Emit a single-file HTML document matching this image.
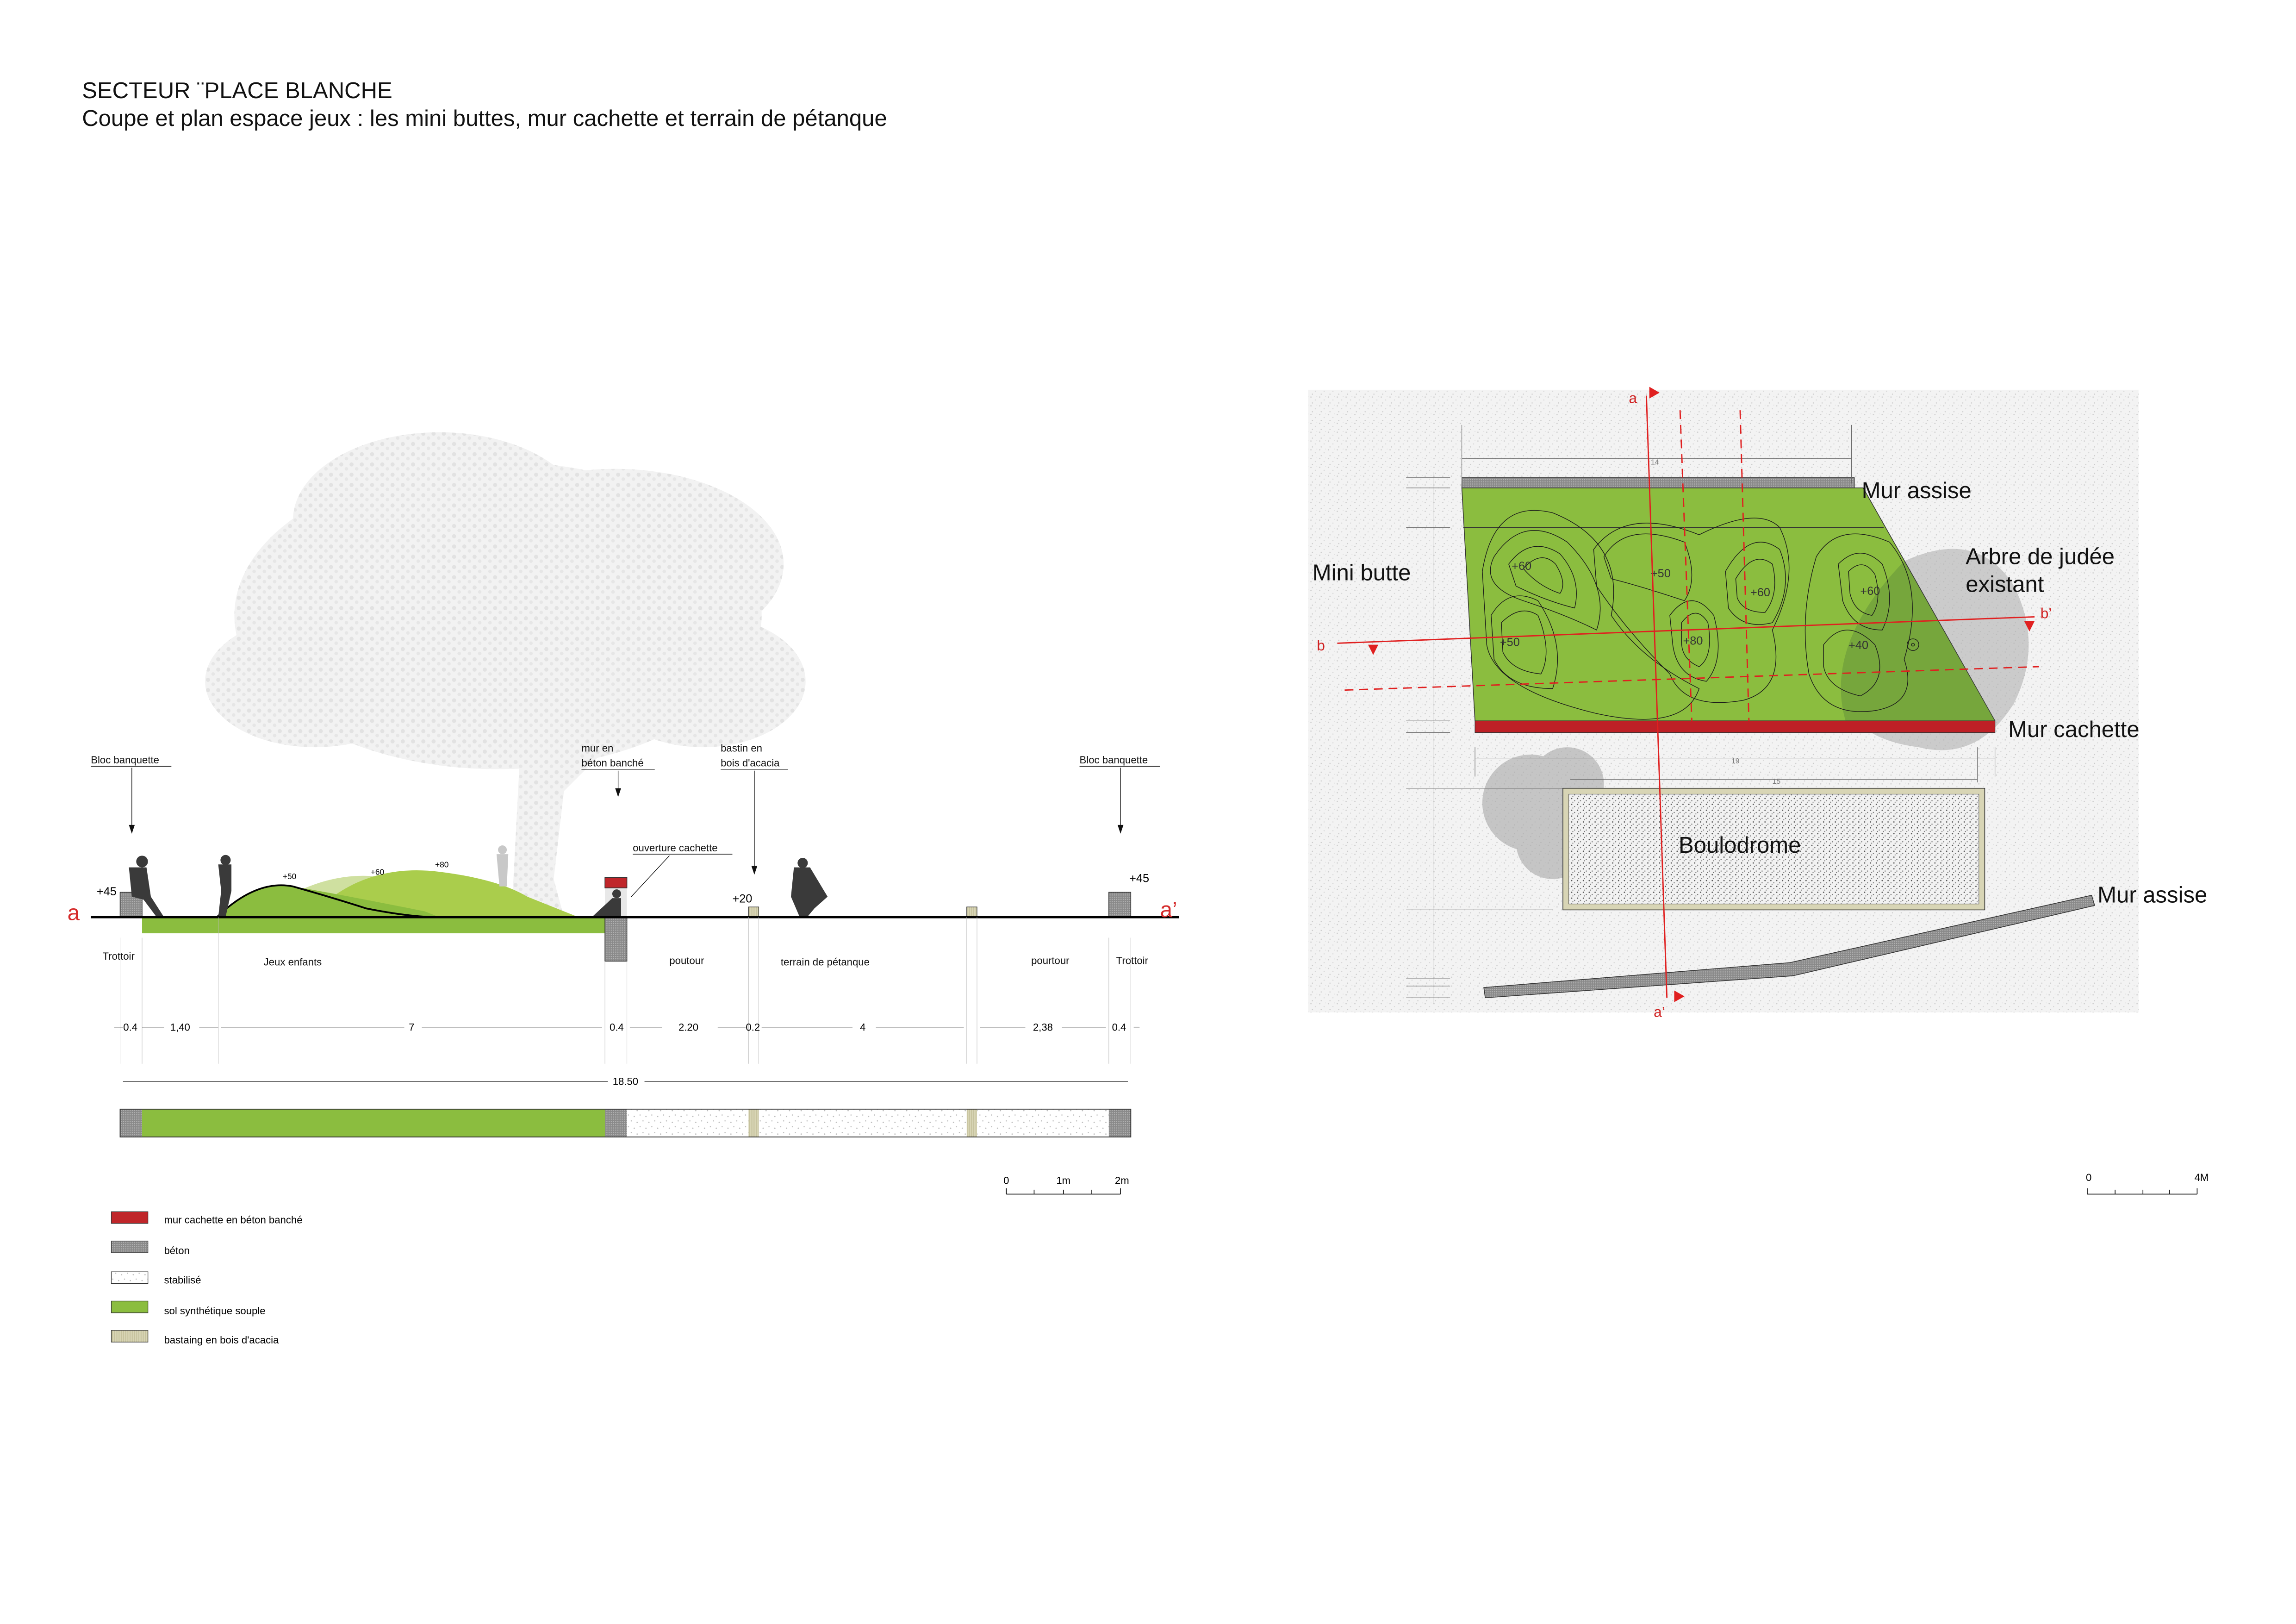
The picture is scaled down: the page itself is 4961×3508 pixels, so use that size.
<!DOCTYPE html>
<html><head><meta charset="utf-8"><style>
html,body{margin:0;padding:0;background:#fff}
svg{display:block}
text{font-family:"Liberation Sans",sans-serif}
.n{font-family:"Liberation Sans Narrow","Liberation Sans",sans-serif}
</style></head><body>
<svg width="4961" height="3508" viewBox="0 0 1567.5 1108.4" preserveAspectRatio="none" xmlns="http://www.w3.org/2000/svg">
<defs>
<pattern id="beton" width="1.5" height="1.5" patternUnits="userSpaceOnUse"><rect width="1.5" height="1.5" fill="#8a8a8a"/><rect width="0.7" height="0.7" fill="#b5b5b5"/></pattern>
<pattern id="stab" width="8" height="8" patternUnits="userSpaceOnUse"><rect width="8" height="8" fill="#fff"/><circle cx="1" cy="2" r="0.45" fill="#bbb"/><circle cx="5" cy="1" r="0.4" fill="#bbb"/><circle cx="3" cy="6" r="0.45" fill="#bbb"/><circle cx="7" cy="5" r="0.4" fill="#bbb"/></pattern>
<pattern id="bois" width="1.5" height="1.5" patternUnits="userSpaceOnUse"><rect width="1.5" height="1.5" fill="#d8d5b5"/><rect width="0.6" height="1.5" fill="#c5c19c"/></pattern>
<pattern id="bg" width="6" height="6" patternUnits="userSpaceOnUse"><rect width="6" height="6" fill="#f3f3f3"/><circle cx="1" cy="1" r="0.45" fill="#cfcfcf"/><circle cx="4" cy="3" r="0.4" fill="#d6d6d6"/><circle cx="2" cy="5" r="0.4" fill="#cacaca"/><circle cx="5" cy="0.5" r="0.3" fill="#ddd"/></pattern>
<pattern id="boul" width="4" height="4" patternUnits="userSpaceOnUse"><rect width="4" height="4" fill="#f2f2f2"/><circle cx="1" cy="1" r="0.45" fill="#555"/><circle cx="3" cy="2.5" r="0.4" fill="#777"/><circle cx="1.8" cy="3.5" r="0.35" fill="#666"/></pattern>
<pattern id="leaf" width="7" height="7" patternUnits="userSpaceOnUse"><rect width="7" height="7" fill="#f2f2f2"/><circle cx="2" cy="2" r="1.4" fill="#e2e2e2"/><circle cx="5.5" cy="5" r="1.2" fill="#e6e6e6"/></pattern>
</defs>

<text x="56" y="67" font-size="15.5" fill="#111">SECTEUR ¨PLACE BLANCHE</text>
<text x="56" y="86" font-size="15.5" fill="#111">Coupe et plan espace jeux : les mini buttes, mur cachette et terrain de pétanque</text>

<!-- Tree -->
<g fill="url(#leaf)">
<ellipse cx="340" cy="420" rx="180" ry="105"/>
<ellipse cx="300" cy="355" rx="100" ry="60"/>
<ellipse cx="420" cy="385" rx="115" ry="65"/>
<ellipse cx="215" cy="465" rx="75" ry="45"/>
<ellipse cx="480" cy="465" rx="70" ry="45"/>
<path d="M355 515 L350 610 L345 626 L385 626 L378 600 L385 540 L420 505 L400 500 L375 520 Z"/>
</g>

<path d="M175 626 Q215 595 255 598 Q285 600 310 620 L320 626 Z" fill="#cfe0a0"/>
<path d="M230 610 Q260 590 300 595 Q340 600 360 612 Q380 620 395 626 L230 626 Z" fill="#aacd4c"/>
<path d="M148 626 Q175 600 200 605 Q230 610 290 622 L300 626 Z" fill="#8bbd3f"/>
<path d="M148 626 Q175 600 200 605 Q225 612 250 620 Q280 626 300 626" fill="none" stroke="#000" stroke-width="1.2"/>
<text x="193" y="600" font-size="5.5" class="n">+50</text>
<text x="253" y="597" font-size="5.5" class="n">+60</text>
<text x="297" y="592" font-size="5.5" class="n">+80</text>

<rect x="97" y="626" width="316" height="11" fill="#8bbd3f"/>
<rect x="82" y="609" width="15" height="17" fill="url(#beton)" stroke="#333" stroke-width="0.5"/>
<rect x="757" y="609" width="15" height="17" fill="url(#beton)" stroke="#333" stroke-width="0.5"/>
<rect x="413" y="626" width="15" height="30" fill="url(#beton)" stroke="#333" stroke-width="0.5"/>
<rect x="413" y="606" width="15" height="20" fill="#e8e8e8"/>
<rect x="413" y="599" width="15" height="7" fill="#c0262a" stroke="#333" stroke-width="0.5"/>
<rect x="511" y="619" width="7" height="7" fill="url(#bois)" stroke="#333" stroke-width="0.4"/>
<rect x="660" y="619" width="7" height="7" fill="url(#bois)" stroke="#333" stroke-width="0.4"/>

<g fill="#3a3a3a">
<circle cx="97" cy="588" r="4"/><path d="M88 592 L100 592 L103 612 L112 626 L107 626 L98 614 L90 612 Z"/>
<circle cx="154" cy="587" r="3.5"/><path d="M149 590 L158 590 L158 608 L154 626 L149 626 L151 608 Z"/>
<circle cx="548" cy="589" r="3.5"/><path d="M542 592 L553 592 L565 612 L556 620 L551 626 L546 626 L540 612 Z"/>
<circle cx="421" cy="610" r="3"/><path d="M418 613 L424 613 L424 626 L404 626 Z"/>
</g>
<g fill="#c8c8c8"><circle cx="343" cy="580" r="3"/><path d="M339 583 L347 583 L346 605 L341 605 Z"/></g>

<line x1="62" y1="626" x2="805" y2="626" stroke="#000" stroke-width="1.5"/>
<text x="46" y="628" font-size="15" fill="#d52b2b">a</text>
<text x="792" y="626" font-size="15" fill="#d52b2b">a’</text>
<text x="66" y="611" font-size="8" class="n">+45</text>
<text x="771" y="602" font-size="8" class="n">+45</text>
<text x="500" y="616" font-size="8" class="n">+20</text>

<g font-size="7" class="n" fill="#111">
<text x="62" y="521">Bloc banquette</text><line x1="62" y1="523" x2="117" y2="523" stroke="#000" stroke-width="0.4"/>
<line x1="90" y1="524" x2="90" y2="566" stroke="#000" stroke-width="0.4"/><path d="M88 563 L90 569 L92 563Z"/>
<text x="737" y="521">Bloc banquette</text><line x1="737" y1="523" x2="792" y2="523" stroke="#000" stroke-width="0.4"/>
<line x1="765" y1="524" x2="765" y2="566" stroke="#000" stroke-width="0.4"/><path d="M763 563 L765 569 L767 563Z"/>
<text x="397" y="513">mur en</text><text x="397" y="523">béton banché</text><line x1="397" y1="525" x2="447" y2="525" stroke="#000" stroke-width="0.4"/>
<line x1="422" y1="526" x2="422" y2="541" stroke="#000" stroke-width="0.4"/><path d="M420 538 L422 544 L424 538Z"/>
<text x="492" y="513">bastin en</text><text x="492" y="523">bois d'acacia</text><line x1="492" y1="525" x2="538" y2="525" stroke="#000" stroke-width="0.4"/>
<line x1="515" y1="526" x2="515" y2="594" stroke="#000" stroke-width="0.4"/><path d="M513 591 L515 597 L517 591Z"/>
<text x="432" y="581">ouverture cachette</text><line x1="432" y1="583" x2="500" y2="583" stroke="#000" stroke-width="0.4"/>
<line x1="457" y1="584" x2="431" y2="612" stroke="#000" stroke-width="0.4"/>
<text x="70" y="655">Trottoir</text><text x="180" y="659">Jeux enfants</text><text x="457" y="658">poutour</text><text x="533" y="659">terrain de pétanque</text><text x="704" y="658">pourtour</text><text x="762" y="658">Trottoir</text>
</g>

<g stroke="#bbb" stroke-width="0.3">
<line x1="82" y1="640" x2="82" y2="726"/><line x1="97" y1="640" x2="97" y2="726"/><line x1="149" y1="626" x2="149" y2="726"/><line x1="413" y1="656" x2="413" y2="726"/><line x1="428" y1="656" x2="428" y2="726"/><line x1="511" y1="626" x2="511" y2="726"/><line x1="518" y1="626" x2="518" y2="726"/><line x1="660" y1="626" x2="660" y2="726"/><line x1="667" y1="626" x2="667" y2="726"/><line x1="757" y1="640" x2="757" y2="726"/><line x1="772" y1="640" x2="772" y2="726"/>
</g>
<g stroke="#000" stroke-width="0.4">
<line x1="78" y1="701" x2="84" y2="701"/><line x1="97" y1="701" x2="112" y2="701"/><line x1="136" y1="701" x2="149" y2="701"/><line x1="151" y1="701" x2="276" y2="701"/><line x1="288" y1="701" x2="411" y2="701"/><line x1="430" y1="701" x2="452" y2="701"/><line x1="490" y1="701" x2="509" y2="701"/><line x1="520" y1="701" x2="582" y2="701"/><line x1="598" y1="701" x2="658" y2="701"/><line x1="669" y1="701" x2="700" y2="701"/><line x1="725" y1="701" x2="755" y2="701"/><line x1="774" y1="701" x2="778" y2="701"/>
<line x1="84" y1="738" x2="415" y2="738"/><line x1="440" y1="738" x2="770" y2="738"/>
</g>
<g font-size="7" class="n" text-anchor="middle">
<text x="89" y="703.5">0.4</text><text x="123" y="703.5">1,40</text><text x="281" y="703.5">7</text><text x="421" y="703.5">0.4</text><text x="470" y="703.5">2.20</text><text x="514" y="703.5">0.2</text><text x="589" y="703.5">4</text><text x="712" y="703.5">2,38</text><text x="764" y="703.5">0.4</text><text x="427" y="740.5">18.50</text>
</g>

<rect x="82" y="757" width="15" height="19" fill="url(#beton)"/>
<rect x="97" y="757" width="316" height="19" fill="#8bbd3f"/>
<rect x="413" y="757" width="15" height="19" fill="url(#beton)"/>
<rect x="428" y="757" width="83" height="19" fill="url(#stab)"/>
<rect x="511" y="757" width="7" height="19" fill="url(#bois)"/>
<rect x="518" y="757" width="142" height="19" fill="url(#stab)"/>
<rect x="660" y="757" width="7" height="19" fill="url(#bois)"/>
<rect x="667" y="757" width="90" height="19" fill="url(#stab)"/>
<rect x="757" y="757" width="15" height="19" fill="url(#beton)"/>
<rect x="82" y="757" width="690" height="19" fill="none" stroke="#333" stroke-width="0.6"/>

<g font-size="7" text-anchor="middle"><text x="687" y="808">0</text><text x="726" y="808">1m</text><text x="766" y="808">2m</text><text x="1426" y="806">0</text><text x="1503" y="806">4M</text></g>
<g stroke="#000" stroke-width="0.5"><line x1="687" y1="815" x2="765" y2="815"/><line x1="687" y1="811" x2="687" y2="815"/><line x1="706" y1="812" x2="706" y2="815"/><line x1="726" y1="812" x2="726" y2="815"/><line x1="745" y1="812" x2="745" y2="815"/><line x1="765" y1="811" x2="765" y2="815"/>
<line x1="1425" y1="815" x2="1500" y2="815"/><line x1="1425" y1="811" x2="1425" y2="815"/><line x1="1444" y1="812" x2="1444" y2="815"/><line x1="1463" y1="812" x2="1463" y2="815"/><line x1="1481" y1="812" x2="1481" y2="815"/><line x1="1500" y1="811" x2="1500" y2="815"/></g>

<rect x="76" y="827" width="25" height="8" fill="#c0262a" stroke="#333" stroke-width="0.4"/>
<rect x="76" y="847" width="25" height="8" fill="url(#beton)" stroke="#333" stroke-width="0.4"/>
<rect x="76" y="868" width="25" height="8" fill="url(#stab)" stroke="#333" stroke-width="0.4"/>
<rect x="76" y="888" width="25" height="8" fill="#8bbd3f" stroke="#333" stroke-width="0.4"/>
<rect x="76" y="908" width="25" height="8" fill="url(#bois)" stroke="#333" stroke-width="0.4"/>
<g font-size="7" class="n"><text x="112" y="835">mur cachette en béton banché</text><text x="112" y="856">béton</text><text x="112" y="876">stabilisé</text><text x="112" y="897">sol synthétique souple</text><text x="112" y="917">bastaing en bois d'acacia</text></g>

<!-- PLAN -->
<rect x="893" y="266" width="567" height="425" fill="url(#bg)"/>
<g fill="#a8a8a8" opacity="0.6">
<circle cx="1045" cy="548" r="33"/><circle cx="1070" cy="535" r="25"/><circle cx="1060" cy="575" r="25"/>
</g>
<g fill="#b0b0b0" opacity="0.6"><path d="M1300 383 Q1350 360 1375 400 Q1395 440 1375 480 Q1350 520 1310 510 Q1270 505 1260 480 Q1250 420 1300 383Z"/></g>
<path d="M998 333 L1272 333 L1362 492 L1007 492 Z" fill="#8bbd3f" stroke="#333" stroke-width="0.5"/>
<line x1="999" y1="360" x2="1286" y2="360" stroke="#333" stroke-width="0.4"/>
<path d="M1300 383 L1362 492 L1260 492 Q1245 440 1300 383Z" fill="#5e8a3a" opacity="0.45"/>
<rect x="998" y="326" width="268" height="7" fill="url(#beton)" stroke="#333" stroke-width="0.4"/>
<rect x="1007" y="492" width="355" height="8" fill="#be2026" stroke="#333" stroke-width="0.4"/>
<g fill="none" stroke="#1a1a1a" stroke-width="0.45">
<path d="M1020 380 Q1040 350 1070 370 Q1100 400 1090 430 Q1070 420 1040 410 Q1010 400 1020 380Z"/>
<path d="M1030 385 Q1045 365 1065 378 Q1080 395 1075 415 Q1055 410 1035 400Z"/>
<path d="M1040 388 Q1052 375 1062 385 Q1070 398 1065 405 Q1050 400 1040 388Z"/>
<path d="M1012 390 Q1020 340 1060 350 Q1110 370 1100 420 Q1120 450 1160 470 Q1150 500 1090 487 Q1020 470 1015 440 Z"/>
<path d="M1018 420 Q1030 400 1050 410 Q1070 440 1060 470 Q1030 470 1020 450Z"/>
<path d="M1025 425 Q1038 412 1050 420 Q1060 445 1052 460 Q1032 458 1026 445Z"/>
<path d="M1095 380 Q1110 355 1150 370 Q1160 395 1150 410 Q1120 400 1100 395Z"/>
<path d="M1088 375 Q1110 345 1160 365 Q1200 345 1215 360 Q1230 390 1210 430 Q1220 470 1190 478 Q1150 485 1140 460 Q1110 430 1090 400 Z"/>
<path d="M1140 420 Q1155 400 1170 420 Q1178 450 1165 465 Q1145 462 1142 440Z"/>
<path d="M1148 425 Q1158 412 1166 425 Q1170 448 1160 455 Q1148 450 1148 438Z"/>
<path d="M1178 390 Q1195 360 1215 375 Q1225 400 1210 425 Q1190 430 1180 415Z"/>
<path d="M1185 395 Q1197 375 1210 385 Q1215 405 1205 418 Q1190 418 1186 408Z"/>
<path d="M1240 380 Q1255 355 1290 370 Q1315 400 1300 450 Q1310 480 1280 485 Q1245 490 1235 460 Q1228 420 1240 380Z"/>
<path d="M1255 385 Q1270 370 1285 385 Q1295 410 1285 430 Q1265 430 1258 410Z"/>
<path d="M1262 390 Q1272 380 1280 392 Q1285 410 1278 420 Q1266 418 1263 405Z"/>
<path d="M1245 440 Q1260 420 1280 440 Q1290 465 1270 475 Q1248 470 1245 455Z"/>
<circle cx="1306" cy="440" r="4"/><circle cx="1306" cy="440" r="1"/>
</g>
<g font-size="8" fill="#333"><text x="1032" y="389">+60</text><text x="1127" y="394">+50</text><text x="1195" y="407">+60</text><text x="1270" y="406">+60</text><text x="1024" y="441">+50</text><text x="1149" y="440">+80</text><text x="1262" y="443">+40</text></g>
<g stroke="#666" stroke-width="0.35" fill="none">
<line x1="998" y1="290" x2="998" y2="330"/><line x1="1264" y1="290" x2="1264" y2="330"/><line x1="998" y1="313" x2="1264" y2="313"/>
<line x1="1007" y1="510" x2="1007" y2="530"/><line x1="1362" y1="510" x2="1362" y2="530"/><line x1="1007" y1="518" x2="1362" y2="518"/>
<line x1="1072" y1="532" x2="1350" y2="532"/><line x1="1350" y1="510" x2="1350" y2="534"/>
<line x1="979" y1="322" x2="979" y2="685"/>
<line x1="960" y1="326" x2="990" y2="326"/><line x1="960" y1="333" x2="990" y2="333"/><line x1="960" y1="360" x2="990" y2="360"/><line x1="960" y1="492" x2="990" y2="492"/><line x1="960" y1="500" x2="990" y2="500"/><line x1="960" y1="538" x2="1090" y2="538"/><line x1="960" y1="621" x2="1060" y2="621"/><line x1="960" y1="668" x2="990" y2="668"/><line x1="960" y1="673" x2="990" y2="673"/><line x1="960" y1="681" x2="990" y2="681"/>
</g>
<g font-size="5" fill="#777"><text x="1127" y="317">14</text><text x="1182" y="521">19</text><text x="1210" y="535">15</text></g>
<rect x="1067" y="538" width="288" height="83" fill="#d8d5b5" stroke="#333" stroke-width="0.5"/>
<rect x="1071" y="542" width="280" height="75" fill="url(#boul)" stroke="#555" stroke-width="0.3"/>
<path d="M1013 674 L1222 657 L1428 611 L1430 618 L1224 666 L1014 681 Z" fill="url(#beton)" stroke="#333" stroke-width="0.5"/>
<g stroke="#e02020" fill="none">
<line x1="1124" y1="270" x2="1138" y2="681" stroke-width="0.9"/>
<line x1="913" y1="439" x2="1389" y2="421" stroke-width="0.9"/>
<line x1="1147" y1="280" x2="1155" y2="492" stroke-width="0.9" stroke-dasharray="6 4"/>
<line x1="1188" y1="280" x2="1194" y2="492" stroke-width="0.9" stroke-dasharray="6 4"/>
<line x1="918" y1="471" x2="1392" y2="455" stroke-width="0.9" stroke-dasharray="6 4"/>
</g>
<g fill="#e02020"><path d="M1126 264 L1133 268 L1126 272Z"/><path d="M1143 676 L1150 680 L1143 684Z"/><path d="M934 440 L941 440 L937.5 447Z"/><path d="M1382 424 L1389 424 L1385.5 431Z"/></g>
<g font-size="10" fill="#d02020"><text x="1112" y="275">a</text><text x="1129" y="694">a’</text><text x="899" y="444">b</text><text x="1393" y="422">b’</text></g>
<g font-size="15.5" fill="#111">
<text x="1271" y="340">Mur assise</text><text x="1342" y="385">Arbre de judée</text><text x="1342" y="404">existant</text><text x="896" y="396">Mini butte</text><text x="1371" y="503">Mur cachette</text><text x="1146" y="582">Boulodrome</text><text x="1432" y="616">Mur assise</text>
</g>
</svg>
</body></html>
